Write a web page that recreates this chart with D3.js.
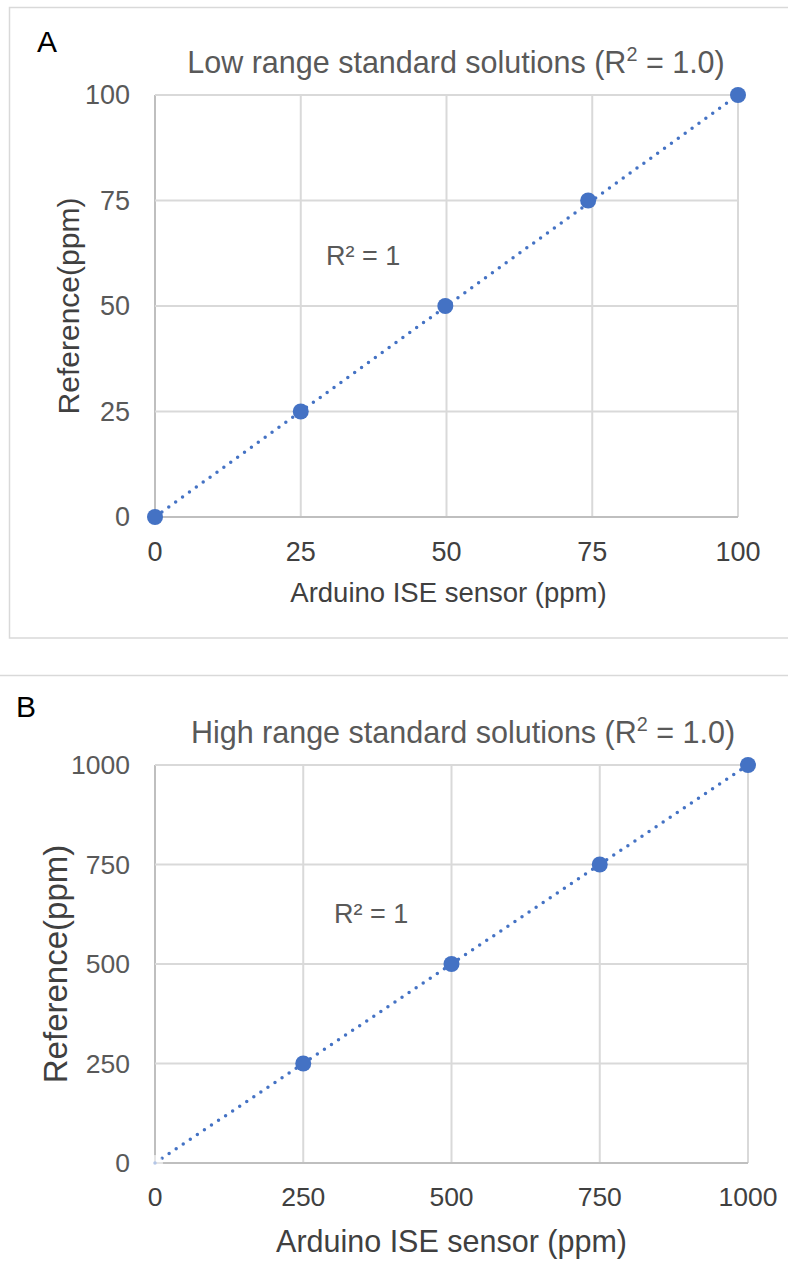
<!DOCTYPE html>
<html>
<head>
<meta charset="utf-8">
<script src="https://cdn.jsdelivr.net/npm/d3@7"></script>
<style>
  body { margin: 0; background: #fff; }
  svg { display: block; font-family: "Liberation Sans", Arial, sans-serif; }
</style>
</head>
<body>
<svg id="canvas" width="788" height="1281"></svg>
<script>
"use strict";

// Panel A - low range
var lowSensor = [0, 25, 49.8, 74.3, 100];
var lowReference = [0, 25, 50, 75, 100];
var lowTicks = [0, 25, 50, 75, 100];

// Panel B - high range
var highSensor = [0, 250, 500, 750, 1000];
var highReference = [0, 250, 500, 750, 1000];
var highTicks = [0, 250, 500, 750, 1000];

var BLUE = "#4472c4";
var svg = d3.select("#canvas");

// panel frames
svg.append("rect")
    .attr("x", 9.5).attr("y", 7.5)
    .attr("width", 800).attr("height", 630.5)
    .attr("fill", "none").attr("stroke", "#d9d9d9").attr("stroke-width", 1.5);
svg.append("line")
    .attr("x1", 0).attr("x2", 788).attr("y1", 675.5).attr("y2", 675.5)
    .attr("stroke", "#d9d9d9").attr("stroke-width", 1.5);

function drawPanel(opt) {
    var g = svg.append("g");
    var x = d3.scaleLinear().domain([0, opt.max]).range([opt.left, opt.right]);
    var y = d3.scaleLinear().domain([0, opt.max]).range([opt.bottom, opt.top]);

    // gridlines
    g.selectAll("line.vgrid").data(opt.ticks).enter().append("line")
        .attr("x1", function(d) { return x(d); })
        .attr("x2", function(d) { return x(d); })
        .attr("y1", opt.top).attr("y2", opt.bottom)
        .attr("stroke", function(d) { return d === 0 ? "#bfbfbf" : "#d9d9d9"; })
        .attr("stroke-width", 2);
    g.selectAll("line.hgrid").data(opt.ticks).enter().append("line")
        .attr("y1", function(d) { return y(d); })
        .attr("y2", function(d) { return y(d); })
        .attr("x1", opt.left).attr("x2", opt.right)
        .attr("stroke", function(d) { return d === 0 ? "#bfbfbf" : "#d9d9d9"; })
        .attr("stroke-width", 2);

    // tick labels
    g.selectAll("text.xt").data(opt.ticks).enter().append("text")
        .attr("x", function(d) { return x(d); })
        .attr("y", opt.bottom + opt.xTickGap)
        .attr("text-anchor", "middle")
        .attr("font-size", opt.tickSize + "px")
        .attr("fill", "#404040")
        .text(function(d) { return d; });
    g.selectAll("text.yt").data(opt.ticks).enter().append("text")
        .attr("x", opt.left - 25)
        .attr("y", function(d) { return y(d); })
        .attr("dy", "0.35em")
        .attr("text-anchor", "end")
        .attr("font-size", opt.tickSize + "px")
        .attr("fill", "#595959")
        .text(function(d) { return d; });

    // titles
    var title = g.append("text")
        .attr("x", opt.titleX).attr("y", opt.titleY)
        .attr("text-anchor", "middle")
        .attr("font-size", opt.titleSize + "px")
        .attr("fill", "#595959");
    title.append("tspan").text(opt.title + " (R");
    title.append("tspan").attr("font-size", (opt.titleSize * 0.65) + "px").attr("dy", "-0.6em").text("2");
    title.append("tspan").attr("dy", "0.4em").text(" = 1.0)");

    g.append("text")
        .attr("x", (opt.left + opt.right) / 2 + opt.xTitleShift)
        .attr("y", opt.xTitleY)
        .attr("text-anchor", "middle")
        .attr("font-size", opt.xTitleSize + "px")
        .attr("fill", "#404040")
        .text("Arduino ISE sensor (ppm)");
    g.append("text")
        .attr("transform", "translate(" + opt.yTitleX + "," + ((opt.top + opt.bottom) / 2) + ") rotate(-90)")
        .attr("text-anchor", "middle")
        .attr("dy", "0.35em")
        .attr("font-size", opt.yTitleSize + "px")
        .attr("fill", "#404040")
        .text("Reference(ppm)");

    g.append("text")
        .attr("x", opt.panelX).attr("y", opt.panelY)
        .attr("font-size", "30px")
        .attr("fill", "#000")
        .text(opt.panelLabel);

    // R² label
    g.append("text")
        .attr("x", opt.rX).attr("y", opt.rY)
        .attr("font-size", "27px")
        .attr("fill", "#595959")
        .text("R² = 1");

    // dotted trendline
    var pts = opt.xs.map(function(v, i) { return [v, opt.ys[i]]; });
    var fit = d3.extent(opt.xs);
    g.append("line")
        .attr("x1", x(fit[0])).attr("y1", y(fit[0]))
        .attr("x2", x(fit[1])).attr("y2", y(fit[1]))
        .attr("stroke", BLUE)
        .attr("stroke-width", 3.5)
        .attr("stroke-linecap", "round")
        .attr("stroke-dasharray", "0,8.5");

    // markers
    g.selectAll("circle").data(pts).enter().append("circle")
        .attr("cx", function(d) { return x(d[0]); })
        .attr("cy", function(d) { return y(d[1]); })
        .attr("r", 8)
        .attr("fill", function(d, i) { return (opt.hollowFirst && i === 0) ? "#fff" : BLUE; })
        .attr("fill-opacity", function(d, i) { return (opt.hollowFirst && i === 0) ? 0.6 : 1; })
        .attr("stroke", "none");
}

drawPanel({
    xs: lowSensor, ys: lowReference, ticks: lowTicks, max: 100,
    left: 155, right: 738, top: 95, bottom: 517,
    tickSize: 27, xTickGap: 44, titleSize: 30.5, xTitleSize: 27.5, yTitleSize: 30,
    title: "Low range standard solutions", titleX: 456, titleY: 73,
    xTitleShift: 2, xTitleY: 602, yTitleX: 68,
    panelLabel: "A", panelX: 37, panelY: 52,
    rX: 326, rY: 265, hollowFirst: false
});

drawPanel({
    xs: highSensor, ys: highReference, ticks: highTicks, max: 1000,
    left: 155, right: 748, top: 765, bottom: 1163,
    tickSize: 26.5, xTickGap: 43, titleSize: 30.5, xTitleSize: 30.5, yTitleSize: 33,
    title: "High range standard solutions", titleX: 463, titleY: 743,
    xTitleShift: 0, xTitleY: 1252, yTitleX: 55,
    panelLabel: "B", panelX: 16, panelY: 717,
    rX: 334, rY: 923, hollowFirst: true
});
</script>
</body>
</html>
